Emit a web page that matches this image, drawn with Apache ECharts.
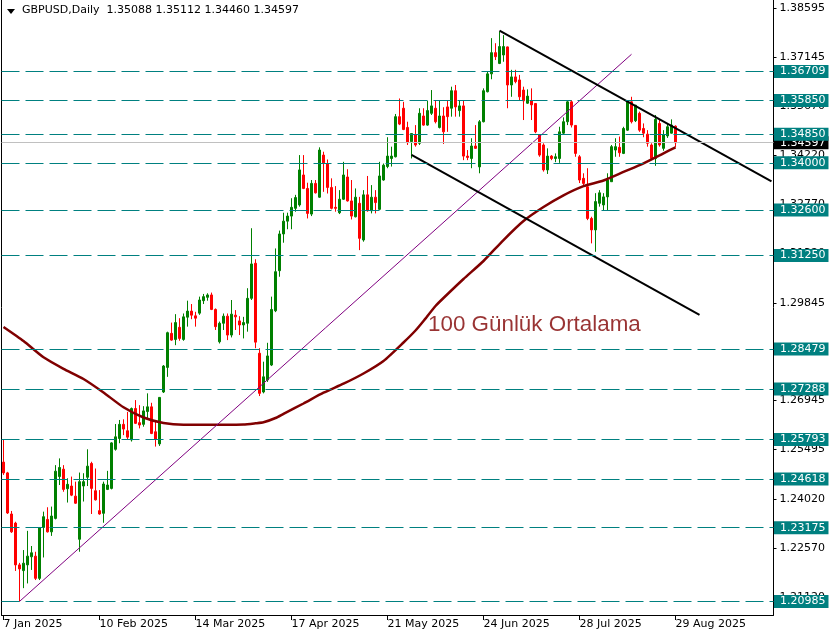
<!DOCTYPE html>
<html><head><meta charset="utf-8">
<script src="https://cdn.jsdelivr.net/npm/echarts@6/dist/echarts.min.js"></script>
<style>html,body{margin:0;padding:0;background:#fff}#c{width:836px;height:639px}</style>
</head><body><div id="c"></div>
<script>
const symbolName = 'GBPUSD,Daily';
const dates = [
'7 Jan 2025','8 Jan 2025','9 Jan 2025','10 Jan 2025','13 Jan 2025','14 Jan 2025','15 Jan 2025','16 Jan 2025','17 Jan 2025','20 Jan 2025','21 Jan 2025','22 Jan 2025','23 Jan 2025','24 Jan 2025','27 Jan 2025','28 Jan 2025','29 Jan 2025','30 Jan 2025','31 Jan 2025',
'3 Feb 2025','4 Feb 2025','5 Feb 2025','6 Feb 2025','7 Feb 2025','10 Feb 2025','11 Feb 2025','12 Feb 2025','13 Feb 2025','14 Feb 2025','17 Feb 2025','18 Feb 2025','19 Feb 2025','20 Feb 2025','21 Feb 2025','24 Feb 2025','25 Feb 2025','26 Feb 2025','27 Feb 2025','28 Feb 2025',
'3 Mar 2025','4 Mar 2025','5 Mar 2025','6 Mar 2025','7 Mar 2025','10 Mar 2025','11 Mar 2025','12 Mar 2025','13 Mar 2025','14 Mar 2025','17 Mar 2025','18 Mar 2025','19 Mar 2025','20 Mar 2025','21 Mar 2025','24 Mar 2025','25 Mar 2025','26 Mar 2025','27 Mar 2025','28 Mar 2025','31 Mar 2025',
'1 Apr 2025','2 Apr 2025','3 Apr 2025','4 Apr 2025','7 Apr 2025','8 Apr 2025','9 Apr 2025','10 Apr 2025','11 Apr 2025','14 Apr 2025','15 Apr 2025','16 Apr 2025','17 Apr 2025','18 Apr 2025','21 Apr 2025','22 Apr 2025','23 Apr 2025','24 Apr 2025','25 Apr 2025','28 Apr 2025','29 Apr 2025','30 Apr 2025',
'1 May 2025','2 May 2025','5 May 2025','6 May 2025','7 May 2025','8 May 2025','9 May 2025','12 May 2025','13 May 2025','14 May 2025','15 May 2025','16 May 2025','19 May 2025','20 May 2025','21 May 2025','22 May 2025','23 May 2025','26 May 2025','27 May 2025','28 May 2025','29 May 2025','30 May 2025',
'2 Jun 2025','3 Jun 2025','4 Jun 2025','5 Jun 2025','6 Jun 2025','9 Jun 2025','10 Jun 2025','11 Jun 2025','12 Jun 2025','13 Jun 2025','16 Jun 2025','17 Jun 2025','18 Jun 2025','19 Jun 2025','20 Jun 2025','23 Jun 2025','24 Jun 2025','25 Jun 2025','26 Jun 2025','27 Jun 2025','30 Jun 2025',
'1 Jul 2025','2 Jul 2025','3 Jul 2025','4 Jul 2025','7 Jul 2025','8 Jul 2025','9 Jul 2025','10 Jul 2025','11 Jul 2025','14 Jul 2025','15 Jul 2025','16 Jul 2025','17 Jul 2025','18 Jul 2025','21 Jul 2025','22 Jul 2025','23 Jul 2025','24 Jul 2025','25 Jul 2025','28 Jul 2025','29 Jul 2025','30 Jul 2025','31 Jul 2025',
'1 Aug 2025','4 Aug 2025','5 Aug 2025','6 Aug 2025','7 Aug 2025','8 Aug 2025','11 Aug 2025','12 Aug 2025','13 Aug 2025','14 Aug 2025','15 Aug 2025','18 Aug 2025','19 Aug 2025','20 Aug 2025','21 Aug 2025','22 Aug 2025','25 Aug 2025','26 Aug 2025','27 Aug 2025','28 Aug 2025','29 Aug 2025'
];
const futureDates = ['1 Sep 2025','2 Sep 2025','3 Sep 2025','4 Sep 2025','5 Sep 2025','8 Sep 2025','9 Sep 2025','10 Sep 2025','11 Sep 2025','12 Sep 2025','15 Sep 2025','16 Sep 2025','17 Sep 2025','18 Sep 2025','19 Sep 2025','22 Sep 2025','23 Sep 2025','24 Sep 2025','25 Sep 2025','26 Sep 2025','29 Sep 2025','30 Sep 2025','1 Oct 2025','2 Oct 2025'];

const open = [1.2512,1.2480,1.2358,1.2331,1.2207,1.2190,1.2207,1.2231,1.2233,1.2167,1.2318,1.2342,1.2305,1.2345,1.2469,1.2491,1.2433,1.2441,1.2411,
1.2283,1.2441,1.2467,1.2508,1.2427,1.2368,1.2360,1.2431,1.2434,1.2550,1.2582,1.2624,1.2605,1.2578,1.2671,1.2629,1.2624,1.2662,1.2676,1.2602,
1.2566,1.2720,1.2793,1.2894,1.2876,1.2912,1.2876,1.2942,1.2960,1.2946,1.2954,1.2991,1.3001,1.3008,1.2965,1.2869,1.2924,1.2945,1.2889,1.2948,1.2931,
1.2919,1.2924,1.2998,1.3102,1.2835,1.2720,1.2756,1.2800,1.2961,1.3080,1.3189,1.3227,1.3242,1.3265,1.3275,1.3364,1.3324,1.3248,1.3339,1.3298,1.3423,1.3398,
1.3327,1.3268,1.3252,1.3292,1.3358,1.3287,1.3240,1.3280,1.3171,1.3305,1.3258,1.3298,1.3262,1.3349,1.3389,1.3413,1.3418,1.3537,1.3562,1.3505,1.3463,1.3483,
1.3458,1.3539,1.3512,1.3547,1.3562,1.3505,1.3539,1.3566,1.3562,1.3614,1.3555,1.3569,1.3420,1.3413,1.3450,1.3388,1.3522,1.3611,1.3664,1.3727,1.3695,
1.3720,1.3744,1.3631,1.3655,1.3646,1.3616,1.3577,1.3584,1.3576,1.3483,1.3453,1.3379,1.3420,1.3413,1.3413,1.3488,1.3522,1.3581,1.3511,1.3418,1.3354,1.3329,1.3235,
1.3201,1.3280,1.3275,1.3299,1.3344,1.3438,1.3446,1.3428,1.3497,1.3581,1.3525,1.3547,1.3502,1.3485,1.3453,1.3413,1.3517,1.3443,1.3480,1.3488,1.35088];
const high = [1.2578,1.2483,1.2367,1.2335,1.2213,1.2251,1.2308,1.2263,1.2246,1.2319,1.2365,1.2378,1.2380,1.2503,1.2523,1.2503,1.2464,1.2469,1.2454,
1.2481,1.2479,1.2550,1.2513,1.2493,1.2429,1.2454,1.2486,1.2571,1.2625,1.2637,1.2639,1.2661,1.2674,1.2696,1.2681,1.2678,1.2716,1.2688,1.2632,
1.2705,1.2800,1.2899,1.2926,1.2951,1.2939,1.2953,1.2991,1.2981,1.2958,1.3003,1.3011,1.3013,1.3015,1.2968,1.2929,1.2953,1.2953,1.2993,1.2963,1.2945,
1.2943,1.3028,1.3206,1.3114,1.2850,1.2810,1.2866,1.3003,1.3146,1.3199,1.3252,1.3252,1.3295,1.3305,1.3423,1.3423,1.3341,1.3349,1.3349,1.3446,1.3433,1.3410,
1.3354,1.3331,1.3319,1.3403,1.3381,1.3349,1.3324,1.3299,1.3319,1.3361,1.3334,1.3319,1.3403,1.3398,1.3476,1.3448,1.3545,1.3591,1.3581,1.3522,1.3488,1.3512,
1.3562,1.3562,1.3584,1.3616,1.3586,1.3586,1.3565,1.3586,1.3626,1.3631,1.3586,1.3586,1.3438,1.3473,1.3512,1.3527,1.3621,1.3670,1.3770,1.3755,1.3790,
1.3779,1.3745,1.3676,1.3676,1.3661,1.3626,1.3618,1.3621,1.3577,1.3485,1.3458,1.3443,1.3423,1.3428,1.3507,1.3535,1.3586,1.3586,1.3512,1.3423,1.3369,1.3384,1.3240,
1.3310,1.3319,1.3310,1.3369,1.3453,1.3473,1.3478,1.3507,1.3586,1.3596,1.3572,1.3552,1.3517,1.3497,1.3458,1.3542,1.3527,1.3497,1.3517,1.3529,1.35112];
const low = [1.2474,1.2358,1.2302,1.2189,1.20985,1.2138,1.2152,1.2192,1.2162,1.2162,1.2229,1.2303,1.2293,1.2342,1.2444,1.2424,1.2392,1.2411,1.2388,
1.2246,1.2395,1.2441,1.2358,1.2398,1.2356,1.2332,1.2429,1.2431,1.2546,1.2568,1.2592,1.2578,1.2573,1.2625,1.2612,1.2617,1.2637,1.2595,1.2558,
1.2560,1.2717,1.2765,1.2872,1.2859,1.2872,1.2872,1.2914,1.2936,1.2914,1.2949,1.2981,1.2991,1.2963,1.2904,1.2864,1.2904,1.2874,1.2882,1.2904,1.2889,
1.2879,1.2899,1.2993,1.2850,1.2708,1.2716,1.2750,1.2797,1.2957,1.3062,1.3163,1.3203,1.3203,1.3255,1.3270,1.3322,1.3235,1.3242,1.3309,1.3296,1.3314,1.3309,
1.3262,1.3255,1.3248,1.3290,1.3285,1.3232,1.3238,1.3141,1.3166,1.3255,1.3250,1.3250,1.3260,1.3347,1.3384,1.3389,1.3416,1.3512,1.3497,1.3453,1.3413,1.3448,
1.3453,1.3510,1.3510,1.3542,1.3517,1.3502,1.3456,1.3492,1.3537,1.3537,1.3537,1.3408,1.3408,1.3384,1.3441,1.3369,1.3520,1.3609,1.3648,1.3705,1.3693,
1.3700,1.3562,1.3596,1.3636,1.3586,1.3527,1.3575,1.3527,1.3488,1.3418,1.3374,1.3367,1.3408,1.3402,1.3400,1.3483,1.3512,1.3505,1.3418,1.3340,1.3331,1.3230,1.3161,
1.3136,1.3270,1.3260,1.3260,1.3344,1.3418,1.3418,1.3426,1.3495,1.3517,1.3521,1.3492,1.3476,1.3448,1.3408,1.3391,1.3448,1.3436,1.3474,1.3487,1.34460];
const close = [1.2480,1.2361,1.2305,1.2207,1.2195,1.2212,1.2233,1.2243,1.2167,1.2318,1.2350,1.2305,1.2352,1.2485,1.2496,1.2431,1.2446,1.2414,1.2390,
1.2454,1.2454,1.2500,1.2434,1.2400,1.2358,1.2447,1.2444,1.2569,1.2587,1.2624,1.2610,1.2586,1.2671,1.2627,1.2622,1.2664,1.2676,1.2597,1.2580,
1.2704,1.2797,1.2896,1.2874,1.2926,1.2879,1.2943,1.2960,1.2948,1.2939,1.2993,1.3003,1.3008,1.2965,1.2914,1.2924,1.2945,1.2889,1.2951,1.2943,1.2919,
1.2926,1.2998,1.3100,1.2868,1.2716,1.2765,1.2827,1.2965,1.3077,1.3189,1.3227,1.3242,1.3268,1.3297,1.3379,1.3324,1.3250,1.3339,1.3311,1.3438,1.3400,1.3327,
1.3265,1.3265,1.3292,1.3364,1.3287,1.3242,1.3298,1.3176,1.3305,1.3258,1.3298,1.3282,1.3361,1.3393,1.3420,1.3420,1.3537,1.3515,1.3499,1.3460,1.3487,1.3453,
1.3547,1.3512,1.3555,1.3569,1.3522,1.3539,1.3492,1.3537,1.3614,1.3566,1.3569,1.3420,1.3416,1.3450,1.3443,1.3522,1.3614,1.3664,1.3727,1.3715,1.3745,
1.3745,1.3631,1.3655,1.3641,1.3596,1.3584,1.3598,1.3572,1.3492,1.3423,1.3379,1.3420,1.3413,1.3418,1.3492,1.3522,1.3581,1.3512,1.3428,1.3349,1.3339,1.3235,1.3201,
1.3285,1.3311,1.3299,1.3349,1.3448,1.3448,1.3430,1.3502,1.3581,1.3522,1.3571,1.3497,1.3488,1.3458,1.3413,1.3529,1.3453,1.3483,1.3507,1.3512,1.34597];

// 100-day moving average at sample bars
const maIndex = [0,5,10,15,20,25,30,35,40,45,50,55,60,63,65,68,70,75,80,85,90,95,100,103,105,108,110,115,120,125,130,135,140,145,150,155,160,165,168];
const maValue = [1.29129,1.28713,1.28229,1.27888,1.27586,1.27185,1.26746,1.26443,1.26280,1.26229,1.26229,1.26229,1.26235,1.26271,1.26301,1.26428,1.26553,1.26859,1.27179,1.27446,1.27749,1.28120,1.28669,1.29025,1.29307,1.29752,1.29989,1.30553,1.31087,1.31710,1.32274,1.32690,1.33037,1.33310,1.33476,1.33731,1.33986,1.34283,1.34461];

const levelValues = [1.36709,1.35850,1.34850,1.34000,1.32600,1.31250,1.28479,1.27288,1.25793,1.24618,1.23175,1.20985];
const yTickLabels = [1.21120,1.22570,1.24020,1.25495,1.26945,1.28395,1.29845,1.31320,1.32770,1.34220,1.35670,1.37145,1.38595];
const yMin = 1.20583, yMax = 1.38832;

const purpleIdx = [4,157], purpleVal = [1.20985,1.37221];
const upperIdx = [124,192], upperVal = [1.37921,1.33449];
const lowerIdx = [102,174], lowerVal = [1.34233,1.29485];

const maText = '100 Günlük Ortalama';
const maTextIdx = 106, maTextVal = 1.29188;

const FONT = 'DejaVu Sans';
const categories = dates.concat(futureDates);
const last = dates.length - 1;
const labelEvery = 24;
const showLabel = (i) => i % labelEvery === 0 && i <= last;

const candleData = dates.map((d, i) => [open[i], close[i], low[i], high[i]]);
const pair = (idx, val) => idx.map((k, i) => [k, val[i]]);

const boxLabel = (bg, txt) => ({
  show: true, position: 'end', distance: 0.5, formatter: txt,
  backgroundColor: bg, color: '#fff', fontFamily: FONT, fontSize: 11,
  lineHeight: 13, padding: [0, 3, 0, 6]
});

const markData = [{
  yAxis: close[last],
  lineStyle: { color: '#c0c0c0', type: 'solid', width: 1 },
  label: boxLabel('#000000', close[last].toFixed(5))
}].concat(levelValues.map(v => ({
  yAxis: v,
  lineStyle: { color: '#008080', type: [18, 6], width: 1 },
  label: boxLabel('#008080', v.toFixed(5))
})));

const header = symbolName + '  ' + [open[last], high[last], low[last], close[last]].map(v => v.toFixed(5)).join(' ');

const chart = echarts.init(document.getElementById('c'), null, { renderer: 'canvas' });
chart.setOption({
  animation: false,
  backgroundColor: '#ffffff',
  textStyle: { fontFamily: FONT },
  grid: { left: 1.5, right: 62.5, top: 0, bottom: 24, containLabel: false },
  xAxis: {
    type: 'category', data: categories, boundaryGap: true,
    axisLine: { show: true, lineStyle: { color: '#000', width: 1 } },
    axisTick: { show: true, alignWithLabel: true, interval: showLabel, length: 5, lineStyle: { color: '#000' } },
    axisLabel: { interval: showLabel, align: 'left', margin: 4, color: '#000', fontSize: 11, fontFamily: FONT },
    splitLine: { show: false }
  },
  yAxis: [{
    type: 'value', position: 'right', min: yMin, max: yMax,
    axisLine: { show: true, lineStyle: { color: '#000', width: 1 } },
    axisTick: { show: true, customValues: yTickLabels, length: 3, lineStyle: { color: '#000' } },
    axisLabel: { customValues: yTickLabels, formatter: v => v.toFixed(5), margin: 6, color: '#000', fontSize: 11, fontFamily: FONT },
    splitLine: { show: false }
  }, {
    type: 'value', position: 'left', min: yMin, max: yMax,
    axisLine: { show: true, lineStyle: { color: '#000', width: 1 } },
    axisTick: { show: false }, axisLabel: { show: false }, splitLine: { show: false }
  }],
  graphic: [
    { type: 'polygon', shape: { points: [[7, 9], [15, 9], [11, 14]] }, style: { fill: '#000' } },
    { type: 'text', left: 22, top: 5, style: { text: header, font: '11px "DejaVu Sans"', fill: '#000' } }
  ],
  series: [{
    type: 'candlestick', data: candleData, barWidth: 2, z: 2,
    itemStyle: { color: '#008000', color0: '#ff0000', borderColor: '#008000', borderColor0: '#ff0000', borderWidth: 1 },
    markLine: { silent: true, precision: 5, symbol: ['none', 'none'], animation: false, data: markData }
  }, {
    type: 'line', data: pair(maIndex, maValue), symbol: 'none', smooth: 0.2, z: 3,
    lineStyle: { color: '#800000', width: 2.5 }
  }, {
    type: 'line', data: pair(purpleIdx, purpleVal), symbol: 'none', z: 3,
    lineStyle: { color: '#800080', width: 1 }
  }, {
    type: 'line', data: pair(upperIdx, upperVal), symbol: 'none', z: 3,
    lineStyle: { color: '#000000', width: 2 }
  }, {
    type: 'line', data: pair(lowerIdx, lowerVal), symbol: 'none', z: 3,
    lineStyle: { color: '#000000', width: 2 }
  }, {
    type: 'scatter', data: [[maTextIdx, maTextVal]], symbolSize: 1, z: 6,
    itemStyle: { color: 'rgba(0,0,0,0)' },
    label: { show: true, position: 'right', distance: 0, formatter: maText, color: '#800000', fontSize: 22.4, fontFamily: 'Liberation Sans' }
  }]
});
</script></body></html>
